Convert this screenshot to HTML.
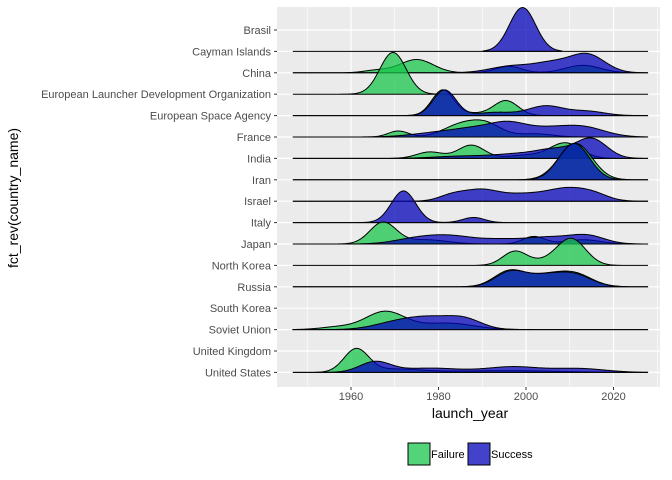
<!DOCTYPE html>
<html><head><meta charset="utf-8"><style>
body{margin:0;background:#fff;}
svg{display:block;font-family:"Liberation Sans",Arial,sans-serif;}
</style></head><body>
<svg id="chart" width="672" height="480">
<rect x="277" y="7" width="383" height="380" fill="#ebebeb"/>
<g id="grid"></g><g id="ridges"></g><g id="axes"></g>
<text x="470" y="418" font-size="14" text-anchor="middle" fill="#000">launch_year</text>
<text transform="translate(18,198) rotate(-90)" font-size="14" text-anchor="middle" fill="#000">fct_rev(country_name)</text>
<g>
<rect x="408" y="443" width="22" height="22" fill="rgb(25,198,75)" fill-opacity="0.75" stroke="#000" stroke-width="1"/>
<text x="431" y="458" font-size="11" fill="#000">Failure</text>
<rect x="468" y="443" width="22" height="22" fill="rgb(3,3,185)" fill-opacity="0.75" stroke="#000" stroke-width="1"/>
<text x="491" y="458" font-size="11" fill="#000">Success</text>
</g>
</svg>
<script>
const countries = ["Brasil","Cayman Islands","China","European Launcher Development Organization","European Space Agency","France","India","Iran","Israel","Italy","Japan","North Korea","Russia","South Korea","Soviet Union","United Kingdom","United States"];
const xTicks = [1960,1980,2000,2020];
const xMinor = [1950,1970,1990,2010,2030];
// ridge baselines (row index), and bumps per outcome: [year, sd, height(rows)]
const ridgeRows = [1,2,3,4,5,6,7,8,9,10,11,12,14,16];
const failureBumps = {
 2:[[1975,3.8,0.62],[1966,3,0.12],[1996,3,0.3],[2013,4,0.35]],
 3:[[1969.6,3,1.95]],
 4:[[1981,2.5,1.2],[1995.4,2.8,0.7],[1988,3,0.1]],
 5:[[1970.8,2.3,0.28],[1985,4,0.55],[1991,3.5,0.55],[2002,4,0.15]],
 6:[[1978,3,0.3],[1987.5,3,0.62],[2000,4,0.15],[2009,3.5,0.72]],
 7:[[2011.3,3.8,1.7]],
 10:[[1967.3,3,1.0],[1977,5,0.2],[2001.8,2.5,0.35],[2013,4,0.2]],
 11:[[1997.5,2.8,0.66],[2010.3,3.3,1.25],[2004,3,0.15]],
 12:[[1996.2,3.5,0.72],[2004,4,0.45],[2011,4,0.6]],
 14:[[1967.8,4.5,0.84],[1982,6,0.3],[1957,4,0.12]],
 16:[[1961.2,2.8,1.07],[1970,6,0.15],[1995,12,0.08]]
};
const successBumps = {
 1:[[1999.2,3,2.05]],
 2:[[1997,5,0.32],[2006,4,0.4],[2014,4,0.85]],
 4:[[1981.4,2.6,1.2],[1993,4,0.15],[2004.5,4,0.45],[2014,4,0.2]],
 5:[[1980,6,0.2],[1989,5,0.35],[1996,4,0.5],[2004,5,0.35],[2013,5,0.45]],
 6:[[1985,6,0.1],[1999,6,0.22],[2007,4,0.35],[2015,3.5,0.9]],
 7:[[2011,3.5,1.7]],
 8:[[1983,3,0.25],[1989.5,4,0.5],[1999,5,0.3],[2010,5,0.6],[2016,3,0.15]],
 9:[[1972,2.8,1.48],[1988,2.5,0.24]],
 10:[[1975,5,0.25],[1983,5,0.33],[1994,5,0.2],[2005,5,0.3],[2014,4,0.38]],
 12:[[1996.4,3.5,0.68],[2004,4,0.45],[2011,4,0.55]],
 14:[[1970,5,0.3],[1978,5,0.5],[1986,4,0.45]],
 16:[[1965.5,3.5,0.48],[1978,7,0.2],[1997,6,0.26],[2012,6,0.18]]
};
const NS="http://www.w3.org/2000/svg";
const px0=351, pxPerYear=4.375, y0=30, rowH=21.4;
const xs=y=>px0+(y-1960)*pxPerYear;
const ys=r=>y0+r*rowH;
function mk(tag,attrs,parent){const e=document.createElementNS(NS,tag);for(const k in attrs)e.setAttribute(k,attrs[k]);parent.appendChild(e);return e;}
const grid=document.getElementById('grid'), axes=document.getElementById('axes'), rg=document.getElementById('ridges');
xMinor.forEach(v=>{const l=mk('line',{x1:xs(v),x2:xs(v),y1:7,y2:387,stroke:'#fff','stroke-width':0.6},grid);

});
xTicks.forEach(v=>{const l=mk('line',{x1:xs(v),x2:xs(v),y1:7,y2:387,stroke:'#fff','stroke-width':1.2},grid);


const t=mk('line',{x1:xs(v),x2:xs(v),y1:387,y2:390,stroke:'#333','stroke-width':1},axes);


const tx=mk('text',{x:xs(v),y:400,'font-size':11,'text-anchor':'middle',fill:'#4d4d4d'},axes);tx.textContent=v;

});
countries.forEach((c,i)=>{const y=ys(i);
const l=mk('line',{x1:277,x2:660,y1:y,y2:y,stroke:'#fff','stroke-width':1.2},grid);


const t=mk('line',{x1:274,x2:277,y1:y,y2:y,stroke:'#333','stroke-width':1},axes);


const tx=mk('text',{x:271,y:y+4,'font-size':11,'text-anchor':'end',fill:'#4d4d4d'},axes);tx.textContent=c;

});
function dens(b,yr){let s=0;b.forEach(([m,sd,h])=>{s+=h*Math.exp(-0.5*((yr-m)/sd)**2);});return s;}
function ridge(bumps,row,fill,name,full){
 let lo=1946.7,hi=2027.9;
 if(!full){lo=Math.min(...bumps.map(b=>b[0]-3*b[1]));hi=Math.max(...bumps.map(b=>b[0]+3*b[1]));}
 const base=ys(row);let d=`M${xs(lo)},${base}`;
 for(let yr=lo;yr<=hi+0.001;yr+=0.25){d+=`L${xs(yr).toFixed(2)},${(base-dens(bumps,yr)*rowH).toFixed(2)}`;}
 d+=`L${xs(hi)},${base}Z`;
 const p=mk('path',{d:d,fill:fill,'fill-opacity':0.75,stroke:'#000','stroke-width':1},rg);
 
 
}
ridgeRows.forEach(r=>{
 const f=failureBumps[r]||[], s=successBumps[r]||[];
 const full=r!==1;
 if(f.length||full) ridge(f,r,'rgb(25,198,75)','ridge-failure-row-'+r,full);
 if(s.length) ridge(s,r,'rgb(3,3,185)','ridge-success-row-'+r,full);
 if(r===1) ridge([],r,'none','ridge-baseline-row-1',true);
});
</script>
</body></html>
